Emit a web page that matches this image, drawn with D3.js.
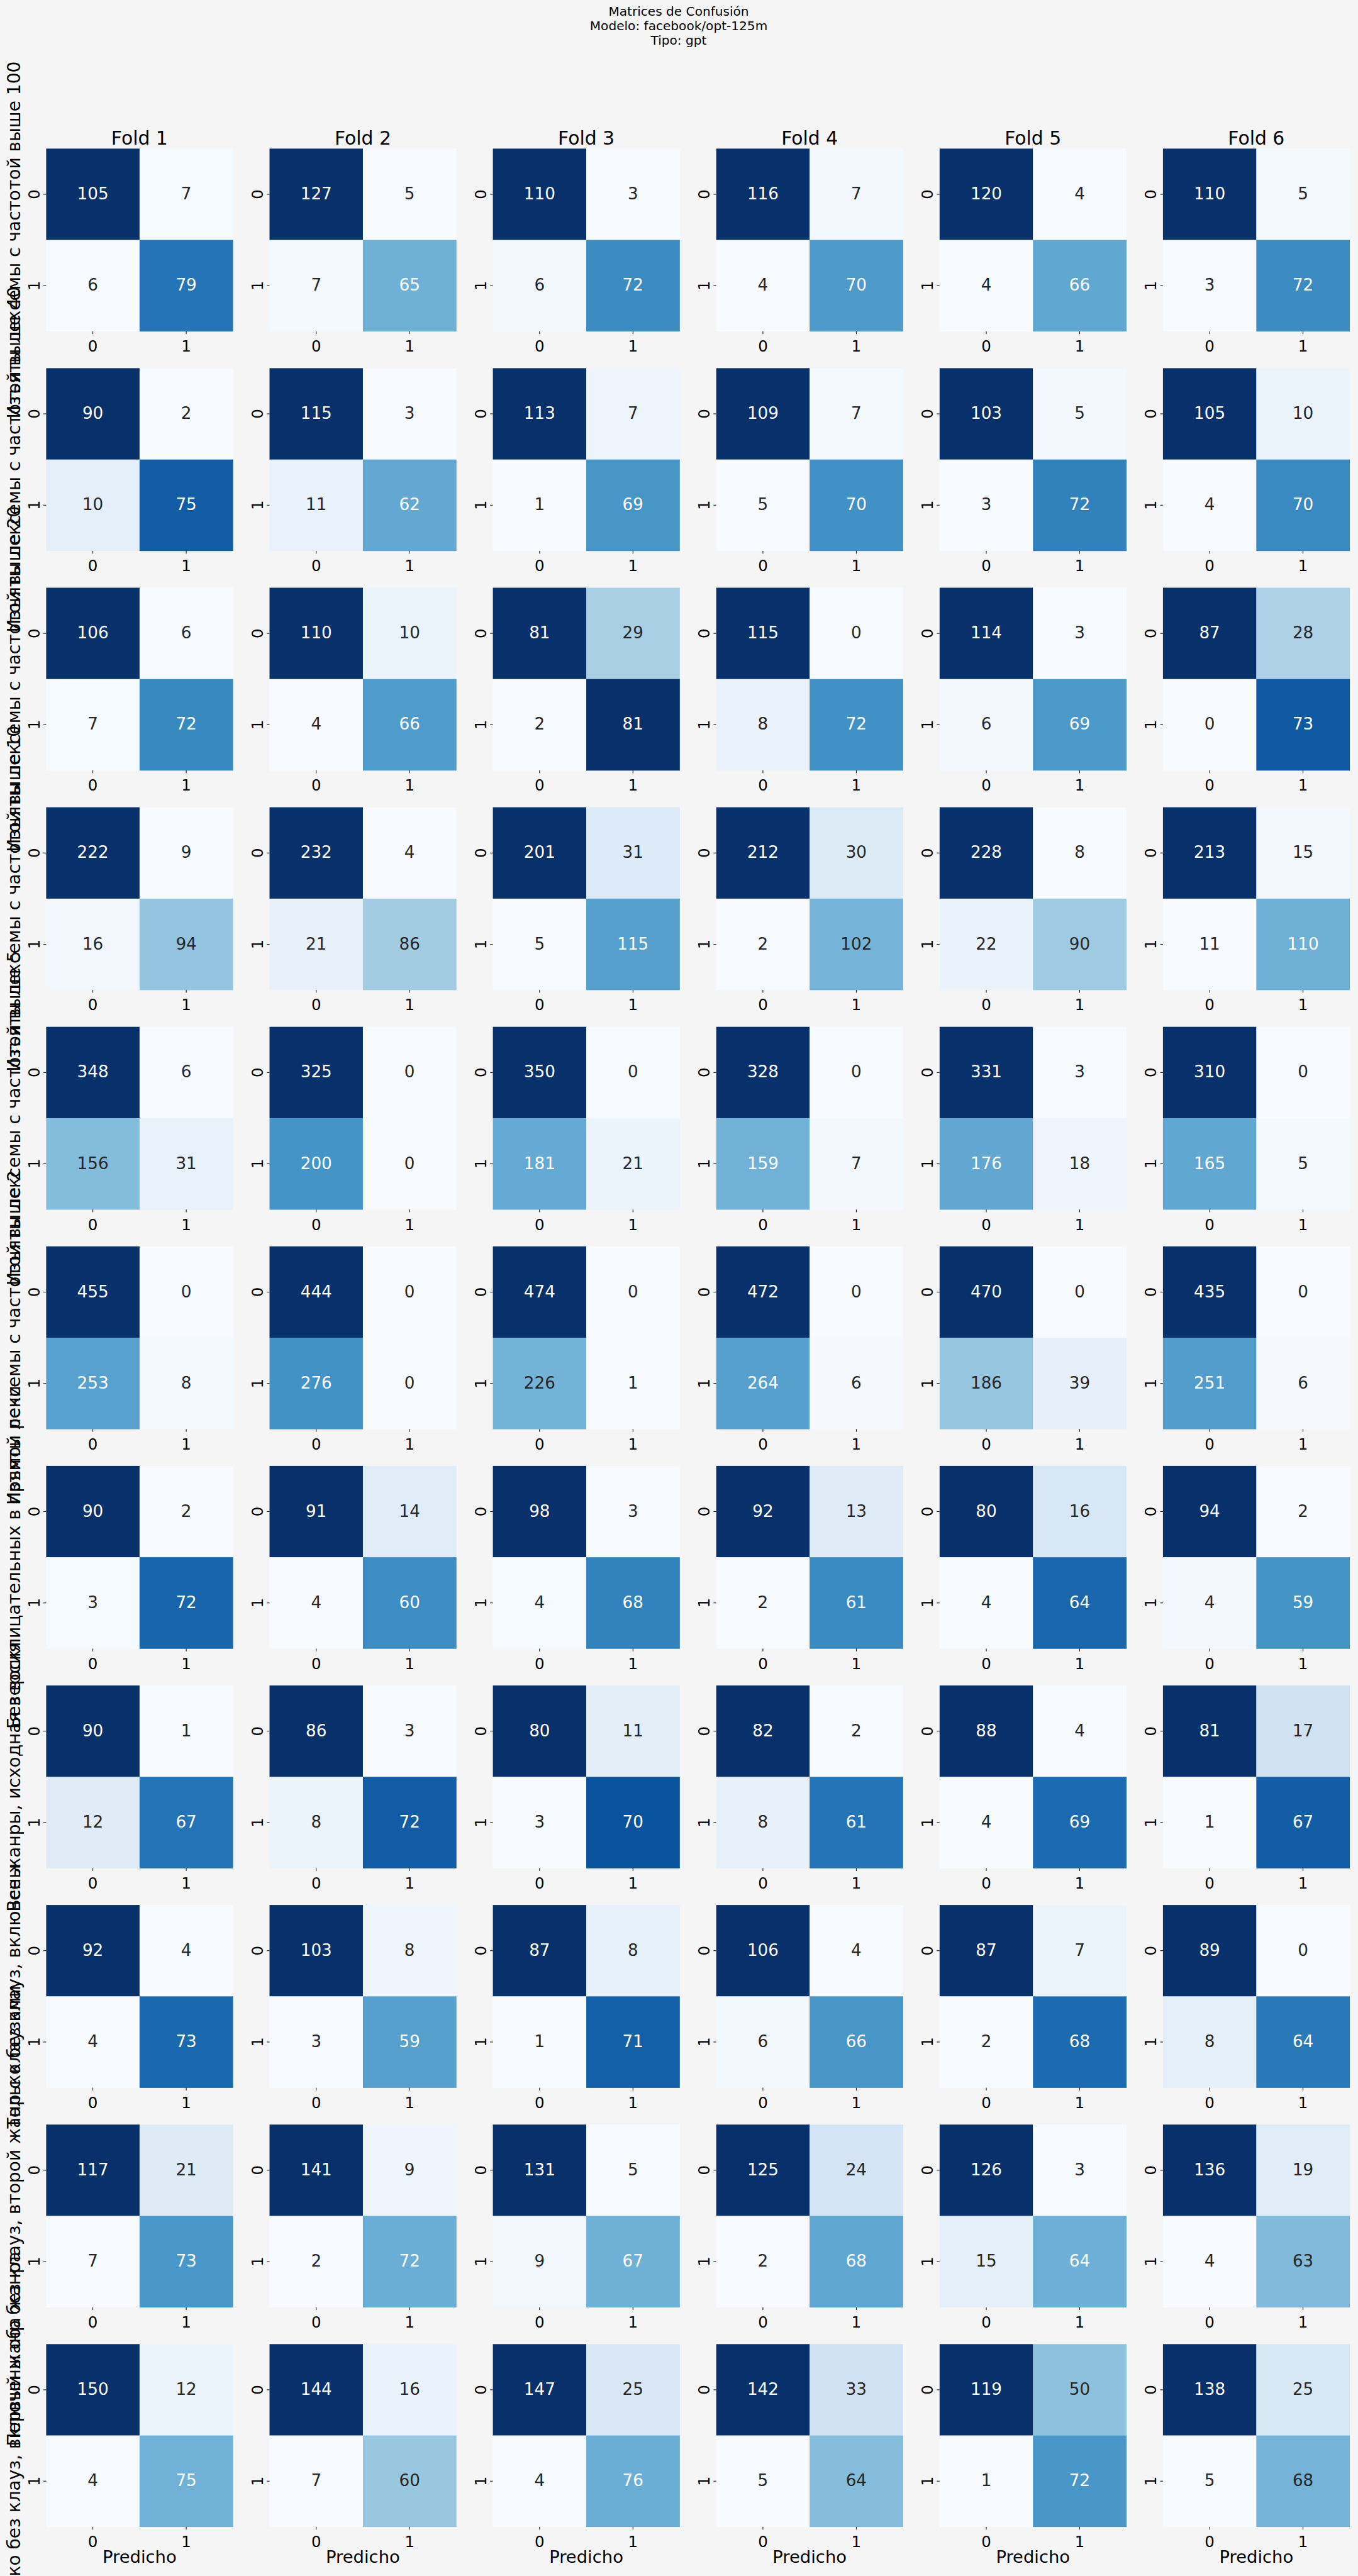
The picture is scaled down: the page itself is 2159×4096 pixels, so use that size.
<!DOCTYPE html>
<html>
<head>
<meta charset="utf-8">
<script src="https://cdn.jsdelivr.net/npm/d3@7"></script>
<style>
html, body { margin: 0; padding: 0; background: #f5f5f5; }
svg { display: block; }
</style>
</head>
<body>
<svg id="chart"></svg>
<script>
// ---------------- DATA ----------------
const titleLines = ["Matrices de Confusión", "Modelo: facebook/opt-125m", "Tipo: gpt"];
const foldLabels = ["Fold 1", "Fold 2", "Fold 3", "Fold 4", "Fold 5", "Fold 6"];
const classLabels = ["0", "1"];
const xAxisLabel = "Predicho";
const rowLabels = [
  "Изъяты лексемы с частотой выше 100",
  "Изъяты лексемы с частотой выше 40",
  "Изъяты лексемы с частотой выше 20",
  "Изъяты лексемы с частотой выше 10",
  "Изъяты лексемы с частотой выше 5",
  "Изъяты лексемы с частотой выше 2",
  "Без восклицательных в прямой речи",
  "Все жанры, исходная версия",
  "Только без клауз, включены",
  "Первый жанр без клауз, второй жанр с клаузами",
  "Только без клауз, включены оба жанра"
];
// each fold: [true0→pred0, true0→pred1, true1→pred0, true1→pred1]
const row1  = [[105, 7, 6, 79], [127, 5, 7, 65], [110, 3, 6, 72], [116, 7, 4, 70], [120, 4, 4, 66], [110, 5, 3, 72]];
const row2  = [[90, 2, 10, 75], [115, 3, 11, 62], [113, 7, 1, 69], [109, 7, 5, 70], [103, 5, 3, 72], [105, 10, 4, 70]];
const row3  = [[106, 6, 7, 72], [110, 10, 4, 66], [81, 29, 2, 81], [115, 0, 8, 72], [114, 3, 6, 69], [87, 28, 0, 73]];
const row4  = [[222, 9, 16, 94], [232, 4, 21, 86], [201, 31, 5, 115], [212, 30, 2, 102], [228, 8, 22, 90], [213, 15, 11, 110]];
const row5  = [[348, 6, 156, 31], [325, 0, 200, 0], [350, 0, 181, 21], [328, 0, 159, 7], [331, 3, 176, 18], [310, 0, 165, 5]];
const row6  = [[455, 0, 253, 8], [444, 0, 276, 0], [474, 0, 226, 1], [472, 0, 264, 6], [470, 0, 186, 39], [435, 0, 251, 6]];
const row7  = [[90, 2, 3, 72], [91, 14, 4, 60], [98, 3, 4, 68], [92, 13, 2, 61], [80, 16, 4, 64], [94, 2, 4, 59]];
const row8  = [[90, 1, 12, 67], [86, 3, 8, 72], [80, 11, 3, 70], [82, 2, 8, 61], [88, 4, 4, 69], [81, 17, 1, 67]];
const row9  = [[92, 4, 4, 73], [103, 8, 3, 59], [87, 8, 1, 71], [106, 4, 6, 66], [87, 7, 2, 68], [89, 0, 8, 64]];
const row10 = [[117, 21, 7, 73], [141, 9, 2, 72], [131, 5, 9, 67], [125, 24, 2, 68], [126, 3, 15, 64], [136, 19, 4, 63]];
const row11 = [[150, 12, 4, 75], [144, 16, 7, 60], [147, 25, 4, 76], [142, 33, 5, 64], [119, 50, 1, 72], [138, 25, 5, 68]];
const matrices = [row1, row2, row3, row4, row5, row6, row7, row8, row9, row10, row11];

// matplotlib "Blues" anchor colours
const bluesStops = ["#f7fbff", "#deebf7", "#c6dbef", "#9ecae1", "#6baed6", "#4292c6", "#2171b5", "#08519c", "#08306b"];

// ---------------- LAYOUT ----------------
const W = 2159, H = 4096;
const FONT = "'DejaVu Sans', 'Noto Sans', sans-serif";
const left0 = 73.4, colPitch = 355.1, mw = 296.9;
const top0 = 236.3, rowPitch = 349.1, mh = 290.5;

const svg = d3.select("#chart")
  .attr("width", W).attr("height", H)
  .attr("viewBox", `0 0 ${W} ${H}`);
svg.append("rect").attr("width", W).attr("height", H).attr("fill", "#f5f5f5");

const colX = d3.scaleLinear().domain([0, 1]).range([left0, left0 + colPitch]);
const rowY = d3.scaleLinear().domain([0, 1]).range([top0, top0 + rowPitch]);

const blues = d3.scaleLinear()
  .domain(d3.range(bluesStops.length).map(i => i / (bluesStops.length - 1)))
  .range(bluesStops)
  .interpolate(d3.interpolateRgb);

function relLum(c) {
  const rgb = d3.rgb(c);
  const f = v => { v /= 255; return v <= 0.03928 ? v / 12.92 : Math.pow((v + 0.055) / 1.055, 2.4); };
  return 0.2126 * f(rgb.r) + 0.7152 * f(rgb.g) + 0.0722 * f(rgb.b);
}

// Suptitle
svg.append("g").selectAll("text").data(titleLines).join("text")
  .attr("x", 1079)
  .attr("y", (d, i) => 24.8 + i * 23.15)
  .attr("text-anchor", "middle")
  .attr("font-family", FONT)
  .attr("font-size", 20.1)
  .attr("fill", "#000")
  .text(d => d);

const nRows = matrices.length, nCols = foldLabels.length;

for (let r = 0; r < nRows; r++) {
  for (let c = 0; c < nCols; c++) {
    const vals = matrices[r][c];
    const g = svg.append("g").attr("transform", `translate(${colX(c)},${rowY(r)})`);
    const x = d3.scaleBand().domain(classLabels).range([0, mw]);
    const y = d3.scaleBand().domain(classLabels).range([0, mh]);
    const vmin = d3.min(vals), vmax = d3.max(vals);
    const norm = d3.scaleLinear().domain([vmin, vmax]).range([0, 1]).clamp(true);
    const colorOf = v => {
      const idx = Math.min(Math.floor(norm(v) * 256), 255);
      return blues(idx / 255);
    };
    const cells = [];
    classLabels.forEach((tr, i) => classLabels.forEach((pr, j) => {
      cells.push({ tr, pr, v: vals[i * 2 + j] });
    }));

    g.selectAll("rect.cell").data(cells).join("rect")
      .attr("class", "cell")
      .attr("x", d => x(d.pr))
      .attr("y", d => y(d.tr))
      .attr("width", x.bandwidth() + 0.3)
      .attr("height", y.bandwidth() + 0.3)
      .attr("fill", d => colorOf(d.v));

    g.selectAll("text.annot").data(cells).join("text")
      .attr("class", "annot")
      .attr("x", d => x(d.pr) + x.bandwidth() / 2)
      .attr("y", d => y(d.tr) + y.bandwidth() / 2)
      .attr("dy", "0.31em")
      .attr("text-anchor", "middle")
      .attr("font-family", FONT)
      .attr("font-size", 26.2)
      .attr("fill", d => relLum(colorOf(d.v)) > 0.408 ? "#262626" : "#ffffff")
      .text(d => d.v);

    // x axis
    const gx = g.append("g")
      .attr("transform", `translate(0,${mh})`)
      .call(d3.axisBottom(x).tickSize(4.4).tickPadding(10.6));
    gx.attr("font-family", FONT).attr("font-size", 24.5);
    gx.select(".domain").remove();
    gx.selectAll(".tick line").attr("stroke", "#000").attr("stroke-width", 1);
    gx.selectAll(".tick text").attr("fill", "#000").attr("dy", "0.71em");

    // y axis (labels rotated)
    const gy = g.append("g").call(d3.axisLeft(y).tickSize(4.4));
    gy.attr("font-family", FONT).attr("font-size", 24.5);
    gy.select(".domain").remove();
    gy.selectAll(".tick line").attr("stroke", "#000").attr("stroke-width", 1);
    gy.selectAll(".tick text")
      .attr("x", 0).attr("dy", 0)
      .attr("text-anchor", "middle")
      .attr("fill", "#000")
      .attr("transform", "translate(-10.7,0) rotate(-90)");

    if (r === 0) {
      g.append("text")
        .attr("x", mw / 2).attr("y", -6.8)
        .attr("text-anchor", "middle")
        .attr("font-family", FONT)
        .attr("font-size", 29.8)
        .attr("fill", "#000")
        .text(foldLabels[c]);
    }
    if (r === nRows - 1) {
      g.append("text")
        .attr("x", mw / 2).attr("y", mh + 57.5)
        .attr("text-anchor", "middle")
        .attr("font-family", FONT)
        .attr("font-size", 27.4)
        .attr("fill", "#000")
        .text(xAxisLabel);
    }
  }
}

// Row labels (y labels of first column), rotated, overlapping as in the original
svg.append("g").selectAll("text").data(rowLabels).join("text")
  .attr("transform", (d, i) => `translate(32,${rowY(i) + mh / 2}) rotate(-90)`)
  .attr("text-anchor", "middle")
  .attr("font-family", FONT)
  .attr("font-size", 28)
  .attr("fill", "#000")
  .text(d => d);
</script>
</body>
</html>
